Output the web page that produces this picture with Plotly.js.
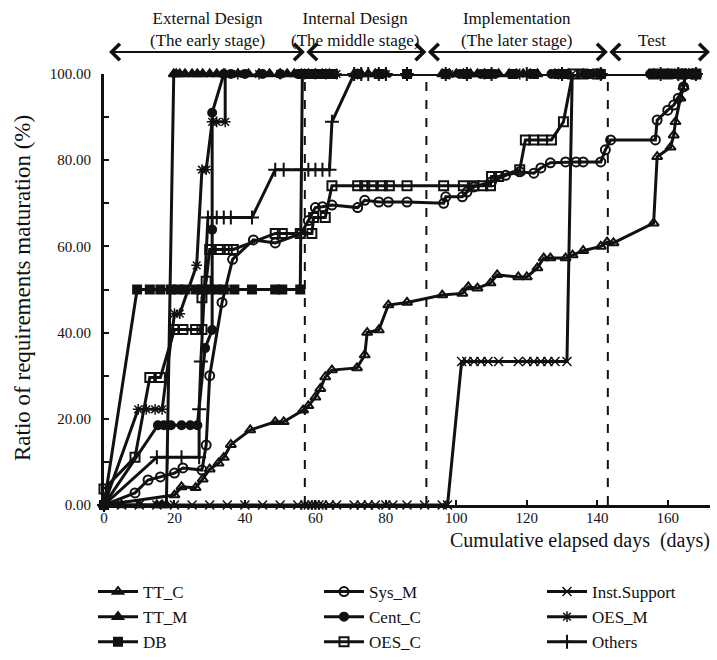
<!DOCTYPE html>
<html><head><meta charset="utf-8">
<script src="https://cdn.plot.ly/plotly-3.0.1.min.js"></script>
<style>body{margin:0;background:#fff}#c{width:717px;height:660px}</style>
</head><body><div id="c"></div>
<script>
// ---- data (days, %) ----
const TT_C_x = [0,20,22,26,28,30,32.5,34,36,41.5,48.6,51,56.5,58,60,61.4,62.8,64.7,71.8,74,74.7,78,80.7,86,96,101.7,103.4,106,109.7,111.6,117.6,120,123,124.8,126.7,131,133,136,141,142.8,144.6,156,157,160.8,161.7,162.2,163.6,164.5,165,166,167,168];
const TT_C_y = [0,2.3,4.2,4,6,8.3,9.7,11,14,17.4,19.3,19.3,22,23,25,27,29.7,31.3,31.8,34.8,40,40.6,46.4,47,48.7,49.1,50.6,50.3,51.5,53.4,52.9,52.9,55,57.3,57.3,57.3,58,59,60,61,60.8,65.4,80.8,83,85.8,88.9,94.4,97,100,100,100,100];

const TT_M_x = [0,5,10,15,16.5,17.7,19.8,20.5,21.5,23,25,26.5,28,30,32,34,38,41,44,47,50,52,54,56,58,60,62,64,71,73,75,77,80,86,96,98,100,102,104,106,108,110,112,115,117,119,121,123,128,130,132,136,140,141,156,158,160,162,164,166,168];
const TT_M_y = [0,0,0,0,0,0,100,100,100,100,100,100,100,100,100,100,100,100,100,100,100,100,100,100,100,100,100,100,100,100,100,100,100,100,100,100,100,100,100,100,100,100,100,100,100,100,100,100,100,100,100,100,100,100,100,100,100,100,100,100,100];

const DB_x = [0,9.4,13,16,19,21,23,26,28,30,32,34,37,42,48.6,50.6,55.7,56.3,57,58,59,60,61,62,63,64,65,72,78,86,97,103,109,116,122,129,131,137,141,157,161,165,168];
const DB_y = [0,50,50,50,50,50,50,50,50,50,50,50,50,50,50,50,50,100,100,100,100,100,100,100,100,100,100,100,100,100,100,100,100,100,100,100,100,100,100,100,100,100,100];

const Sys_M_x = [0,8.8,12.5,16,20,22.4,27.8,29,30,33.5,36.5,42.4,48.6,56,58,60,62,64.7,72,74,78,80.7,86,96.4,97,101.7,103,105,110,114,118,122,124,126.7,131,134,136,141,142.3,143.8,156.5,157,160,161.7,163,164.5,165,167,168];
const Sys_M_y = [0,2.8,5.8,6.5,7.4,8.6,8.1,13.9,30,47,57,61.5,60.8,63,66,69,69.2,69.6,69,70.7,70.3,70.3,70.3,70,71.5,71.5,72.6,73.8,75,76.5,77.3,77,78.2,79.4,79.6,79.6,79.6,79.6,82.4,84.7,84.7,89.3,91.6,92.8,94.4,97,100,100,100];

const Cent_C_x = [0,15.3,17,19,22,24.5,26.5,28.7,30.7,30.7,30.7,34,36,40,45,50,55,57,59,61,63,65,72,79,86,97,101,107,111,117,121,127,130,138,141,155,159,163,168];
const Cent_C_y = [0,18.5,18.5,18.5,18.5,18.5,18.5,36.4,40.6,63.9,91,100,100,100,100,100,100,100,100,100,100,100,100,100,100,100,100,100,100,100,100,100,100,100,100,100,100,100,100];

const OES_C_x = [0,8.8,13,16,20,22.4,26,27.8,27.8,29,30,33,35,36.7,48.6,50.6,55.7,59,59.5,62.8,64.7,72,74,76,79,81,86,96.4,102,105,107.5,109.7,110,112,118,119.6,122,124.5,127,130.4,133,136,140,156,160,164,168];
const OES_C_y = [3.7,11.1,29.6,29.6,40.7,40.7,40.7,40.7,48.1,51.9,59.3,59.3,59.3,59.3,63,63,63,63,66.7,66.7,74.1,74.1,74.1,74.1,74.1,74.1,74.1,74.1,74.1,74.1,74.1,74.1,76.2,76.2,77.8,84.7,84.7,84.7,84.7,88.9,100,100,100,100,100,100,100];

const Inst_x = [0,5,10,15,20,25,30,35,40,45,50,55,57,58,59,60,61,62,64,66,71,73,75,77,80,82,86,91,96,97.5,101.5,103,105,107,109,112,117.6,120,122,124,126,128,131.4,132.9,136,141,156,160,164,168];
const Inst_y = [0,0,0,0,0,0,0,0,0,0,0,0,0,0,0,0,0,0,0,0,0,0,0,0,0,0,0,0,0,0,33.3,33.3,33.3,33.3,33.3,33.3,33.3,33.3,33.3,33.3,33.3,33.3,33.3,100,100,100,100,100,100,100];

const OES_M_x = [0,9.7,12,14.5,16.5,20,21.5,26.3,27.8,29,30.7,32,34.4,34.4,38,44,50,57,60,63,66,72,80,98,108,118,129,140,158,164,168];
const OES_M_y = [0,22.2,22.2,22.2,22.2,44.4,44.4,55.6,77.8,77.8,88.9,88.9,88.9,100,100,100,100,100,100,100,100,100,100,100,100,100,100,100,100,100,100];

const Others_x = [0,15,18,22,27,27,27.5,29.5,32,34,36,42,48.6,51,56,58,60,62,64,64.7,71,73,75,78,80,86,97,103,110,120,130,141,158,163,168];
const Others_y = [0,11.1,11.1,11.1,11.1,22.2,33.3,66.7,66.7,66.7,66.7,66.7,77.8,77.8,77.8,77.8,77.8,77.8,77.8,88.9,100,100,100,100,100,100,100,100,100,100,100,100,100,100,100];

const stageBounds = [1,57,91.5,143,172];
const stageLabels = ["External Design<br>(The early stage)","Internal Design<br>(The middle stage)","Implementation<br>(The later stage)","Test"];
const stageCenters = [29.5,71.2,117.2,155.5];
const yTicks = [0,20,40,60,80,100];
const yTickText = ["0.00","20.00","40.00","60.00","80.00","100.00"];
const xTicks = [0,20,40,60,80,100,120,140,160];

// ---- drawing ----
const FONT = "Liberation Serif, Times New Roman, serif";
const black = "#111";
function tr(name, x, y, symbol, size, legend, mlw) {
  return {type:"scatter", mode:"lines+markers", name, x, y, legend, cliponaxis:false,
    line:{color:black, width:3},
    marker:{symbol, size, color: black, line:{color:black, width: mlw||2}}};
}
const traces = [
  tr("TT_C", TT_C_x, TT_C_y, "triangle-up-open", 9, "legend"),
  tr("TT_M", TT_M_x, TT_M_y, "triangle-up", 9, "legend"),
  tr("DB", DB_x, DB_y, "square", 8, "legend"),
  tr("Sys_M", Sys_M_x, Sys_M_y, "circle-open", 9, "legend2"),
  tr("Cent_C", Cent_C_x, Cent_C_y, "circle", 8, "legend2"),
  tr("OES_C", OES_C_x, OES_C_y, "square-open", 9, "legend2"),
  tr("Inst.Support", Inst_x, Inst_y, "x-thin-open", 9, "legend3", 1.5),
  tr("OES_M", OES_M_x, OES_M_y, "asterisk-open", 9, "legend3", 1.5),
  tr("Others", Others_x, Others_y, "cross-thin-open", 10, "legend3", 2)
];

const W=717, H=660, ML=104, MR=7, MT=74, MB=155;
const plotW = W-ML-MR, plotH = H-MT-MB, xMax = 172;
const pxPerDay = plotW/xMax;
const py = p => (H-MB-p)/plotH;   // pixel y -> paper y

const shapes = [57,91.5,143].map(v=>({type:"line", xref:"x", yref:"y", x0:v, x1:v, y0:0, y1:100,
  line:{color:black, width:2, dash:"dash"}}));

const annotations = [];
for (let i=0;i<4;i++){
  annotations.push({xref:"x", yref:"paper", x:stageBounds[i+1], y:py(52), ax:-(stageBounds[i+1]-stageBounds[i])*pxPerDay, ay:0,
    axref:"pixel", ayref:"pixel", text:"", showarrow:true, arrowside:"end+start", arrowhead:4, startarrowhead:4,
    arrowsize:1.6, startarrowsize:1.6, arrowwidth:2, arrowcolor:black, standoff:0, startstandoff:0});
  const single = stageLabels[i].indexOf("<br>")<0;
  annotations.push({xref:"x", yref:"paper", x:stageCenters[i], y: single?py(40):py(29), text:stageLabels[i],
    showarrow:false, xanchor:"center", yanchor:"middle", font:{family:FONT, size:17, color:black}});
}
annotations.push({xref:"paper", yref:"paper", x:(712-ML)/plotW, y:py(540), xanchor:"right", yanchor:"middle",
  text:"Cumulative elapsed days  (days)", showarrow:false, font:{family:FONT, size:20, color:black}});
annotations.push({xref:"paper", yref:"paper", x:(22-ML)/plotW, y:py(288), xanchor:"center", yanchor:"middle", textangle:-90,
  text:"Ratio of requirements maturation (%)", showarrow:false, font:{family:FONT, size:23, color:black}});

function leg(xpx){ return {x:(xpx-ML)/plotW, xanchor:"left", y:py(574), yanchor:"top", orientation:"v",
  font:{family:FONT, size:17, color:black}, itemwidth:40, bgcolor:"rgba(0,0,0,0)", tracegroupgap:0}; }

const layout = {
  width:W, height:H, margin:{l:ML, r:MR, t:MT, b:MB, autoexpand:false}, paper_bgcolor:"#fff", plot_bgcolor:"#fff",
  font:{family:FONT, color:black},
  showlegend:true,
  xaxis:{range:[0,xMax], tickvals:xTicks, ticks:"inside", ticklen:5, tickwidth:2, tickcolor:black,
    showline:true, linewidth:3, linecolor:black, showgrid:false, zeroline:false, automargin:false,
    ticklabelstandoff:-3, tickfont:{family:FONT, size:15, color:black}},
  yaxis:{range:[0,100], tickvals:yTicks, ticktext:yTickText, ticks:"inside", ticklen:5, tickwidth:2, tickcolor:black,
    minor:{dtick:10, ticks:"inside", ticklen:5, tickwidth:2, tickcolor:black}, automargin:false,
    showline:true, linewidth:3, linecolor:black, showgrid:false, zeroline:false, ticklabelstandoff:7,
    tickfont:{family:FONT, size:15, color:black}},
  legend:leg(93), legend2:leg(319), legend3:leg(542),
  shapes, annotations
};
Plotly.newPlot("c", traces, layout, {displayModeBar:false, staticPlot:true});
</script></body></html>
